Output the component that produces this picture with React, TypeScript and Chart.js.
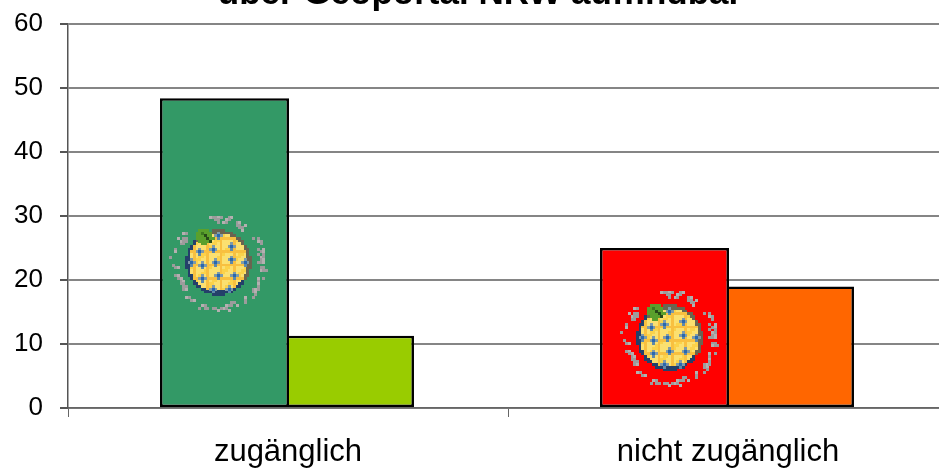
import React, { useEffect, useRef } from "react";
import { Chart, registerables } from "chart.js";

Chart.register(...registerables);

const categories = ["zugänglich", "nicht zugänglich"];
const firstValues = [48.4, 25];
const secondValues = [11.3, 19];
const firstColors = ["#339966", "#ff0000"];
const secondColors = ["#99cc00", "#ff6600"];
const yTicksMax = 60;
const titleText = "über Geoportal NRW auffindbar";

const CELL = 2.67;
const ringCells: number[][] = [
  [-3,-17],[-2,-17],[-1,-17],[0,-17],[1,-17],[4,-17],[5,-17],[-1,-16],[0,-16],[3,-16],[4,-16],[0,-15],[2,-15],[3,-15],
  [7,-15],[8,-15],[7,-14],[8,-14],[10,-14],[8,-13],[9,-13],[9,-12],
  [13,-9],[15,-9],[15,-8],[16,-8],[16,-7],[17,-5],[15,-5],[16,-4],[17,-4],[15,-3],[17,-3],[16,-2],[17,-2],[16,-1],[17,-1],[15,0],[16,0],[17,0],
  [16,2],[17,2],[16,3],[17,3],[18,3],[15,6],[17,6],[15,7],[15,8],[15,9],[13,10],[14,10],[15,10],[13,11],[14,11],[14,12],[13,13],
  [10,13],[10,14],[10,15],[7,16],[5,15],[6,15],[3,16],[4,16],[5,16],[2,17],[3,17],[1,17],[4,18],[-1,17],[-2,17],[0,18],[-4,17],[-5,16],[-6,16],[-5,17],[-7,17],
  [-12,13],[-11,13],[-10,14],[-9,14],[-12,9],[-13,9],[-12,10],[-13,10],[-14,7],[-13,7],[-14,8],[-13,8],[-15,5],[-16,5],[-15,6],[-14,6],
  [-17,1],[-16,2],[-15,2],[-18,-2],[-16,-5],[-16,-4],
  [-14,-7],[-13,-7],[-14,-8],[-13,-8],[-12,-8],[-15,-9],[-13,-9],[-12,-9],[-13,-11],[-12,-11],
];
const dotCells: number[][] = [
  [0,-10],[-7,-4],[-2,-5],[5,-6],[-6,1],[-1,0],[5,-1],[10,0],[-6,6],[0,5],[6,5],[-10,0],[-2,10],[4,10],
];
const leafCells: number[][] = [
  [-7,-12],[-6,-12],[-5,-12],[-4,-12],[-8,-11],[-7,-11],[-6,-11],[-5,-11],[-4,-11],[-3,-11],[-8,-10],[-7,-10],[-6,-10],[-5,-10],[-4,-10],[-3,-10],
  [-8,-9],[-7,-9],[-6,-9],[-5,-9],[-4,-9],[-3,-9],[-2,-9],[-7,-8],[-6,-8],[-5,-8],[-4,-8],[-3,-8],[-6,-7],[-5,-7],
];

function drawBadge(ctx: CanvasRenderingContext2D, cx: number, cy: number) {
  const put = (dx: number, dy: number, c: string) => {
    ctx.fillStyle = c;
    ctx.fillRect(Math.round(cx + dx * CELL), Math.round(cy + dy * CELL), Math.ceil(CELL), Math.ceil(CELL));
  };
  ringCells.forEach(([dx, dy], i) => put(dx, dy, i % 3 === 0 ? "#b4b0b0" : "#9c9c9c"));
  for (let dy = -12; dy <= 12; dy++) {
    for (let dx = -12; dx <= 12; dx++) {
      const d = Math.hypot(dx, dy);
      if (d > 12.2) continue;
      if (d > 10.9) {
        put(dx, dy, dy > 6 || dx < -8 ? "#24406a" : "#6a6450");
      } else {
        const band = (dx + 14) % 5 === 0 || (dy + 14) % 5 === 0;
        const warm = (dx + dy + 30) % 7 < 2;
        put(dx, dy, band ? "#f8c040" : warm ? "#fbd24a" : "#fbe070");
      }
    }
  }
  dotCells.forEach(([dx, dy]) => {
    put(dx - 1, dy, "#7f9aa8");
    put(dx + 1, dy, "#7f9aa8");
    put(dx, dy - 1, "#7f9aa8");
    put(dx, dy + 1, "#5f88a8");
    put(dx, dy, "#2868b0");
  });
  leafCells.forEach(([dx, dy]) => put(dx, dy, "#5aa02c"));
  put(-5, -10, "#274a18");
  put(-4, -9, "#274a18");
  put(-3, -8, "#274a18");
  put(-6, -11, "#3c7a20");
}

const badgePlugin = {
  id: "badge",
  afterDatasetsDraw(chart: any) {
    const bars = chart.getDatasetMeta(0).data;
    const offsets = [[-7.5, 8.5], [3.7, 8.7]];
    bars.forEach((b: any, i: number) => {
      drawBadge(chart.ctx, b.x + offsets[i][0], (b.y + b.base) / 2 + offsets[i][1]);
    });
  },
};

export default function App() {
  const ref = useRef<HTMLCanvasElement>(null);
  useEffect(() => {
    const chart = new Chart(ref.current!, {
      type: "bar",
      data: {
        labels: categories,
        datasets: [
          { data: firstValues, backgroundColor: firstColors, borderSkipped: false, barPercentage: 1.016 },
          { data: secondValues, backgroundColor: secondColors, borderSkipped: "left", barPercentage: 0.984 },
        ],
      },
      plugins: [badgePlugin],
      options: {
        animation: false,
        responsive: false,
        devicePixelRatio: 1,
        layout: { padding: 0, autoPadding: false },
        datasets: {
          bar: {
            categoryPercentage: 0.5773,
            borderColor: "#000000",
            borderWidth: 2.6,
          },
        },
        plugins: {
          legend: { display: false },
          tooltip: { enabled: false },
          title: {
            display: true,
            text: titleText,
            color: "#000000",
            font: { family: "'Liberation Sans'", size: 35, weight: "bold", lineHeight: 1.2 },
            padding: { top: -26.5, bottom: 8.5 },
          },
        },
        scales: {
          x: {
            grid: { display: true, drawOnChartArea: false, drawTicks: true, tickLength: 9, color: "#666666", lineWidth: 1 },
            border: { display: true, color: "#666666", width: 1.5 },
            ticks: {
              color: "#000000",
              padding: 17,
              maxRotation: 0,
              font: { family: "'Liberation Sans'", size: 31 },
            },
            afterFit: (s: any) => { s.height = 60; },
          },
          y: {
            min: 0,
            max: yTicksMax,
            grid: { color: "#858585", lineWidth: 2, tickLength: 8, tickColor: "#555555" },
            border: { display: true, color: "#555555", width: 1.5 },
            ticks: {
              stepSize: 10,
              color: "#000000",
              padding: 17,
              font: { family: "'Liberation Sans'", size: 26 },
            },
            afterFit: (s: any) => { s.width = 68; s.paddingTop = 0; s.paddingBottom = 0; },
          },
          gutter: {
            position: "right",
            display: true,
            grid: { display: false },
            border: { display: false },
            ticks: { display: false },
            afterFit: (s: any) => { s.width = 12; s.paddingTop = 0; s.paddingBottom = 0; },
          },
        },
      } as any,
    });
    return () => chart.destroy();
  }, []);
  return (
    <div style={{ position: "fixed", left: 0, top: 0, width: 939, height: 468, overflow: "hidden", background: "#fff" }}>
      <canvas ref={ref} width={960} height={468} style={{ display: "block" }} />
    </div>
  );
}
